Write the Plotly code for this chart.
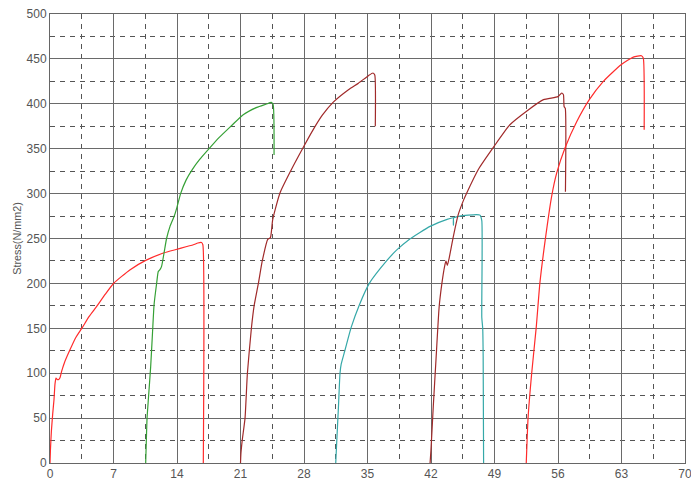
import plotly.graph_objects as go

# ---- data (strain vs stress) ----
s1_x = [0, 0.05, 0.15, 0.3, 0.44, 0.55, 0.66, 0.8, 0.92, 1.1, 1.28, 1.6, 2.2, 2.8, 3.57, 4.3, 5.15, 6.1, 7.05, 8.8, 10.55, 12.5, 14.0, 15.8, 16.3, 16.7, 16.85, 16.9]
s1_y = [0, 15, 35, 55, 70.5, 88, 94.6, 93, 92.8, 95, 102, 112, 126, 139, 151, 163, 174.4, 188, 200.4, 215, 225.6, 233.8, 238, 243, 245, 245.5, 243, 0]

s2_x = [10.55, 10.7, 10.84, 11.1, 11.3, 11.47, 11.76, 11.94, 12.1, 12.3, 12.57, 12.85, 13.23, 13.7, 14.0, 14.4, 15.0, 15.7, 16.5, 17.45, 18.6, 20.0, 21.3, 22.8, 23.8, 24.4, 24.6, 24.7]
s2_y = [0, 50, 70.5, 107.6, 145, 176, 200.4, 213.4, 215, 219, 233.8, 250, 263.5, 275, 285, 300, 315, 327, 338, 349, 362, 375.6, 387.9, 396, 399.5, 401.6, 399, 343]

s3_x = [21.0, 21.05, 21.2, 21.5, 21.76, 22.2, 22.5, 22.97, 23.4, 24.0, 24.3, 24.55, 25.35, 26.6, 28.0, 29.0, 30.0, 31.2, 32.9, 34.0, 35.1, 35.6, 35.8, 35.86]
s3_y = [0, 11, 26, 50, 100, 150, 175, 200, 225, 249, 251, 271, 300.7, 326.6, 353, 371, 387, 401.6, 415.7, 423, 431.3, 434.3, 432, 375]

s4_x = [31.5, 31.6, 31.8, 31.97, 32.1, 32.5, 33.2, 34.1, 35.2, 37.1, 38.2, 39.6, 41.9, 43.7, 44.45, 44.47, 44.5, 45.2, 47.0, 47.4, 47.6, 47.6, 47.7, 47.75, 47.8]
s4_y = [0, 22, 63, 100, 110, 125, 151, 176, 200, 225, 237, 249, 263.5, 271, 273, 265, 273, 275, 276.5, 276, 270, 162, 150, 119, 0]

s5_x = [41.9, 42.0, 42.25, 42.55, 42.9, 43.2, 43.5, 43.65, 43.8, 44.0, 44.46, 45.0, 45.6, 45.94, 47.2, 48.95, 50.7, 52.5, 54.4, 56.0, 56.4, 56.6, 56.67, 56.8, 56.82]
s5_y = [0, 15, 63, 115, 174, 200, 219, 225, 220, 228, 252, 276.5, 293, 300.7, 326.6, 352.6, 376.7, 391.5, 404.6, 408, 412, 410, 397, 395, 302]

s6_x = [52.5, 52.7, 53.1, 53.6, 54.0, 54.6, 55.3, 55.86, 56.77, 58.06, 59.45, 61.0, 62.95, 64.3, 65.2, 65.4, 65.5]
s6_y = [0, 50, 100, 151, 200, 249, 297, 323, 350.8, 380, 404.6, 425, 443.5, 452, 453.5, 451, 371]

series_x = [s1_x, s2_x, s3_x, s4_x, s5_x, s6_x]
series_y = [s1_y, s2_y, s3_y, s4_y, s5_y, s6_y]
series_colors = ["#ff2b2b", "#35a035", "#a02a2a", "#35a8a8", "#a02a2a", "#ff2b2b"]

x_ticks = [0, 7, 14, 21, 28, 35, 42, 49, 56, 63, 70]
y_ticks = [0, 50, 100, 150, 200, 250, 300, 350, 400, 450, 500]

fig = go.Figure()
for xs, ys, c in zip(series_x, series_y, series_colors):
    fig.add_trace(go.Scatter(x=xs, y=ys, mode="lines",
                             line=dict(color=c, width=1.2, shape="spline", smoothing=0.5),
                             showlegend=False, hoverinfo="skip"))

tickfont = dict(family="Liberation Sans, Arial, sans-serif", size=12, color="#555555")
fig.update_layout(
    width=691, height=484,
    margin=dict(l=50, r=6, t=14, b=21, autoexpand=False),
    paper_bgcolor="white", plot_bgcolor="white",
    xaxis=dict(range=[0, 70], tickvals=x_ticks, ticktext=[str(v) for v in x_ticks],
               automargin=False, ticklabeloverflow="allow",
               showgrid=True, gridcolor="#6a6a6a", gridwidth=1,
               showline=True, mirror=True, linecolor="#666666", linewidth=1,
               zeroline=False, ticks="", tickfont=tickfont,
               minor=dict(tickmode="linear", tick0=0, dtick=3.5, showgrid=True,
                          gridcolor="#555555", gridwidth=1, griddash="5px,5px")),
    yaxis=dict(range=[0, 500], tickvals=y_ticks, ticktext=[str(v) for v in y_ticks],
               automargin=False, ticklabeloverflow="allow",
               showgrid=True, gridcolor="#6a6a6a", gridwidth=1,
               showline=True, mirror=True, linecolor="#666666", linewidth=1,
               zeroline=False, ticks="", tickfont=tickfont,
               title=dict(text="Stress(N/mm2)", standoff=2,
                          font=dict(family="Liberation Sans, Arial, sans-serif", size=10.8, color="#555555")),
               minor=dict(tickmode="linear", tick0=0, dtick=25, showgrid=True,
                          gridcolor="#555555", gridwidth=1, griddash="5px,5px")),
)

fig.write_html("out.html", config={"displayModeBar": False, "staticPlot": True},
               post_script="document.body.style.margin='0';document.body.style.overflow='hidden';")
